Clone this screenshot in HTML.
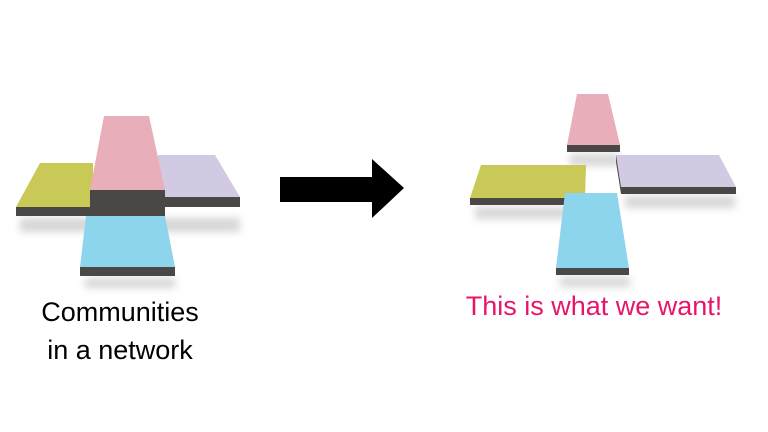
<!DOCTYPE html>
<html><head><style>
body{margin:0;width:768px;height:432px;background:#fff;overflow:hidden;position:relative;font-family:"Liberation Sans",sans-serif}
.t{position:absolute;font-size:27px;text-align:center;white-space:nowrap;line-height:32px}
</style></head><body>
<svg width="768" height="432" style="position:absolute;left:0;top:0">
<defs><filter id="b" x="-20%" y="-50%" width="140%" height="200%"><feGaussianBlur stdDeviation="4"/></filter></defs>
<g fill="#bbb" opacity="0.6" filter="url(#b)">
<rect x="20" y="218" width="220" height="14"/>
<rect x="85" y="278" width="90" height="10"/>
<rect x="475" y="207" width="110" height="12"/>
<rect x="625" y="196" width="110" height="12"/>
<rect x="570" y="154" width="50" height="12"/>
<rect x="560" y="277" width="70" height="10"/>
</g>
<polygon points="40,163 93,163 93,207 16,207" fill="#c9c957"/>
<rect x="16" y="207" width="77" height="9" fill="#4a4847"/>
<polygon points="158,155 215,155 240,197 158,197" fill="#d2c9e2"/>
<rect x="158" y="197" width="82" height="10" fill="#4a4847"/>
<polygon points="104,116 149,116 165,190 90,190" fill="#e8aeb9"/>
<rect x="90" y="190" width="75" height="26" fill="#4a4847"/>
<polygon points="86,216 165,216 175,267 80,267" fill="#8dd5ec"/>
<rect x="80" y="267" width="95" height="9" fill="#4a4847"/>
<polygon points="280,177 372,177 372,159 404,188 372,218 372,202 280,202" fill="#000"/>
<polygon points="577,94 608,94 620,145 567,145" fill="#e8aeb9"/>
<rect x="567" y="145" width="53" height="7" fill="#4a4847"/>
<polygon points="616,155 719,155 736,187 621,187" fill="#d2c9e2"/>
<polygon points="616,155 621,187 621,194 616,162" fill="#4a4847"/>
<rect x="621" y="187" width="115" height="7" fill="#4a4847"/>
<polygon points="481,165 586,165 585,198 470,198" fill="#c9c957"/>
<rect x="470" y="198" width="115" height="7" fill="#4a4847"/>
<polygon points="565,193 617,193 629,268 556,268" fill="#8dd5ec"/>
<rect x="556" y="268" width="73" height="7" fill="#4a4847"/>
</svg>
<div class="t" style="left:20px;width:200px;top:296px;color:#000">Communities</div>
<div class="t" style="left:20px;width:200px;top:334px;color:#000">in a network</div>
<div class="t" style="left:444px;width:300px;top:290px;color:#e8146a">This is what we want!</div>
</body></html>
